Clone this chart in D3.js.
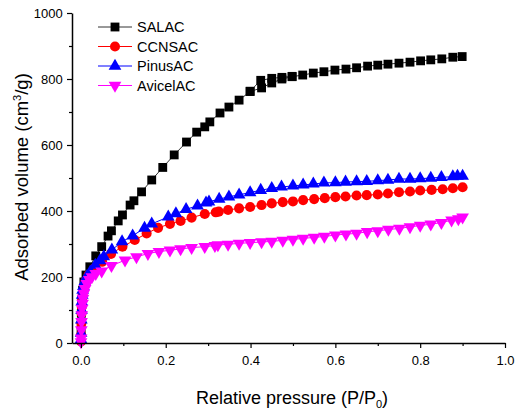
<!DOCTYPE html>
<html>
<head>
<meta charset="utf-8">
<script src="https://cdn.jsdelivr.net/npm/d3@7"></script>
<style>
  body { margin: 0; background: #fff; }
  text { font-family: Arial, "Liberation Sans", sans-serif; }
</style>
</head>
<body>
<div id="chart"></div>
<script>
// isotherm data, [P/P0, volume]
const salac = [[0.0005,40],[0.001,90],[0.002,130],[0.004,160],[0.007,185],[0.012,206],[0.021,231],[0.035,264],[0.049,292],[0.064,324],[0.072,340],[0.088,370],[0.098,388],[0.116,418],[0.125,431],[0.143,458],[0.167,494],[0.193,532],[0.22,570],[0.249,609],[0.273,639],[0.292,655],[0.304,670],[0.328,697],[0.349,715],[0.373,736],[0.399,762],[0.426,773],[0.45,788],[0.474,800],[0.498,807],[0.523,812],[0.548,818],[0.573,822],[0.599,827],[0.625,830],[0.65,834],[0.676,839],[0.7,842],[0.724,845],[0.75,848],[0.776,851],[0.801,855],[0.825,858],[0.851,861],[0.877,866],[0.899,868]];
const salacDes = [[0.498,808],[0.474,805],[0.45,802],[0.424,796],[0.399,763]];
const ccnsac = [[0.0003,5],[0.0005,25],[0.001,60],[0.0015,90],[0.002,110],[0.003,130],[0.004,145],[0.006,160],[0.008,175],[0.011,188],[0.018,206],[0.032,226],[0.05,246],[0.071,270],[0.098,292],[0.127,312],[0.155,332],[0.182,349],[0.21,361],[0.235,370],[0.261,380],[0.292,391],[0.318,396],[0.325,398],[0.347,403],[0.373,408],[0.399,412],[0.426,418],[0.45,423],[0.476,427],[0.5,429],[0.524,433],[0.55,436],[0.575,439],[0.6,442],[0.624,444],[0.65,447],[0.674,448],[0.7,450],[0.724,453],[0.75,457],[0.776,459],[0.8,462],[0.827,464],[0.853,466],[0.877,469],[0.9,472]];
const pinusac = [[0.0003,10],[0.0005,30],[0.001,70],[0.0015,100],[0.002,125],[0.003,145],[0.004,160],[0.006,172],[0.009,186],[0.014,201],[0.022,216],[0.034,236],[0.045,250],[0.054,262],[0.073,282],[0.097,307],[0.122,325],[0.15,348],[0.167,361],[0.206,382],[0.224,392],[0.248,405],[0.275,416],[0.295,425],[0.302,428],[0.326,436],[0.349,443],[0.373,449],[0.399,456],[0.424,463],[0.45,469],[0.473,473],[0.5,476],[0.524,479],[0.548,482],[0.573,485],[0.6,486],[0.624,488],[0.65,489],[0.674,490],[0.7,492],[0.724,494],[0.75,497],[0.776,497],[0.8,498],[0.825,500],[0.85,502],[0.877,504],[0.888,506],[0.9,506]];
const avicelac = [[0.0003,3],[0.0005,15],[0.001,40],[0.0015,65],[0.002,85],[0.003,105],[0.004,120],[0.005,135],[0.007,150],[0.01,165],[0.014,180],[0.02,192],[0.026,200],[0.035,210],[0.049,218],[0.072,234],[0.104,251],[0.131,261],[0.158,271],[0.184,277],[0.21,281],[0.235,285],[0.261,289],[0.292,292],[0.316,295],[0.323,297],[0.347,299],[0.373,302],[0.399,304],[0.426,306],[0.45,308],[0.476,311],[0.5,314],[0.524,317],[0.55,320],[0.574,323],[0.6,327],[0.625,330],[0.65,332],[0.675,337],[0.7,340],[0.725,344],[0.751,347],[0.776,352],[0.8,356],[0.825,360],[0.85,365],[0.874,372],[0.89,376],[0.9,381]];

const seriesNames = ['SALAC', 'CCNSAC', 'PinusAC', 'AvicelAC'];
const xTicks = [0, 0.2, 0.4, 0.6, 0.8, 1.0];
const xMinor = [0.1, 0.3, 0.5, 0.7, 0.9];
const yTicks = [0, 200, 400, 600, 800, 1000];
const yMinor = [100, 300, 500, 700, 900];

const width = 515, height = 409;
const margin = { left: 72, right: 10, top: 13, bottom: 66 };

const svg = d3.select('#chart').append('svg')
    .attr('width', width)
    .attr('height', height);

const x = d3.scaleLinear().domain([-0.021, 1.0]).range([margin.left, width - margin.right]);
const y = d3.scaleLinear().domain([0, 1000]).range([height - margin.bottom, margin.top]);

// series styling
const series = [
    { name: seriesNames[0], data: [salac, salacDes], color: '#000000', line: '#333333', symbol: d3.symbolSquare, size: 78, rot: 0 },
    { name: seriesNames[1], data: [ccnsac], color: '#ff0000', line: '#ff0000', symbol: d3.symbolCircle, size: 80, rot: 0 },
    { name: seriesNames[2], data: [pinusac], color: '#0000ff', line: '#0000ff', symbol: d3.symbolTriangle, size: 70, rot: 0 },
    { name: seriesNames[3], data: [avicelac], color: '#ff00ff', line: '#ff00ff', symbol: d3.symbolTriangle, size: 70, rot: 180 }
];

const line = d3.line().x(d => x(d[0])).y(d => y(d[1]));

series.forEach(s => {
    const g = svg.append('g');
    s.data.forEach(arr => {
        g.append('path')
            .attr('d', line(arr))
            .attr('fill', 'none')
            .attr('stroke', s.line)
            .attr('stroke-width', 1);
    });
    const sym = d3.symbol().type(s.symbol).size(s.size);
    s.data.forEach(arr => {
        g.selectAll(null)
            .data(arr)
            .enter().append('path')
            .attr('d', sym)
            .attr('transform', d => `translate(${x(d[0])},${y(d[1])}) rotate(${s.rot})`)
            .attr('fill', s.color);
    });
});

// axes
const xAxis = svg.append('g')
    .attr('transform', `translate(0,${height - margin.bottom})`)
    .call(d3.axisBottom(x).tickValues(xTicks).tickSize(5).tickSizeOuter(0).tickFormat(d3.format('.1f')));
svg.append('g')
    .attr('transform', `translate(0,${height - margin.bottom})`)
    .call(d3.axisBottom(x).tickValues(xMinor).tickSize(3).tickSizeOuter(0).tickFormat(''))
    .select('.domain').remove();

const yAxis = svg.append('g')
    .attr('transform', `translate(${margin.left},0)`)
    .call(d3.axisLeft(y).tickValues(yTicks).tickSize(5).tickSizeOuter(0).tickFormat(d3.format('d')));
svg.append('g')
    .attr('transform', `translate(${margin.left},0)`)
    .call(d3.axisLeft(y).tickValues(yMinor).tickSize(3).tickSizeOuter(0).tickFormat(''))
    .select('.domain').remove();

svg.selectAll('.domain').attr('stroke-width', 1.5);
svg.selectAll('.tick line').attr('stroke-width', 1.2);
xAxis.selectAll('text').attr('font-size', 13).attr('dy', '1.1em').style('font-family', 'Arial, "Liberation Sans", sans-serif');
yAxis.selectAll('text').attr('font-size', 13).attr('dx', '-0.1em').style('font-family', 'Arial, "Liberation Sans", sans-serif');

// axis titles
const xt = svg.append('text')
    .attr('x', 292)
    .attr('y', 404)
    .attr('text-anchor', 'middle')
    .attr('font-size', 18)
    .text('Relative pressure (P/P');
xt.append('tspan').attr('font-size', 11).attr('dy', 4).text('0');
xt.append('tspan').attr('dy', -4).text(')');

const yt = svg.append('text')
    .attr('transform', 'translate(28,177) rotate(-90)')
    .attr('text-anchor', 'middle')
    .attr('font-size', 18.5)
    .text('Adsorbed volume (cm');
yt.append('tspan').attr('font-size', 11).attr('dy', -7).text('3');
yt.append('tspan').attr('dy', 7).text('/g)');

// legend
const legend = svg.selectAll('.legend')
    .data(series)
    .enter().append('g')
    .attr('class', 'legend')
    .attr('transform', (d, i) => `translate(98,${27 + i * 19.5})`);

legend.append('line')
    .attr('x1', 0).attr('x2', 34)
    .attr('stroke', d => d.line)
    .attr('stroke-width', 1);

legend.append('path')
    .attr('d', d => d3.symbol().type(d.symbol).size(d.size)())
    .attr('transform', d => `translate(17,0) rotate(${d.rot})`)
    .attr('fill', d => d.color);

legend.append('text')
    .attr('x', 39)
    .attr('dy', '0.36em')
    .attr('font-size', 14.5)
    .text(d => d.name);
</script>
</body>
</html>
